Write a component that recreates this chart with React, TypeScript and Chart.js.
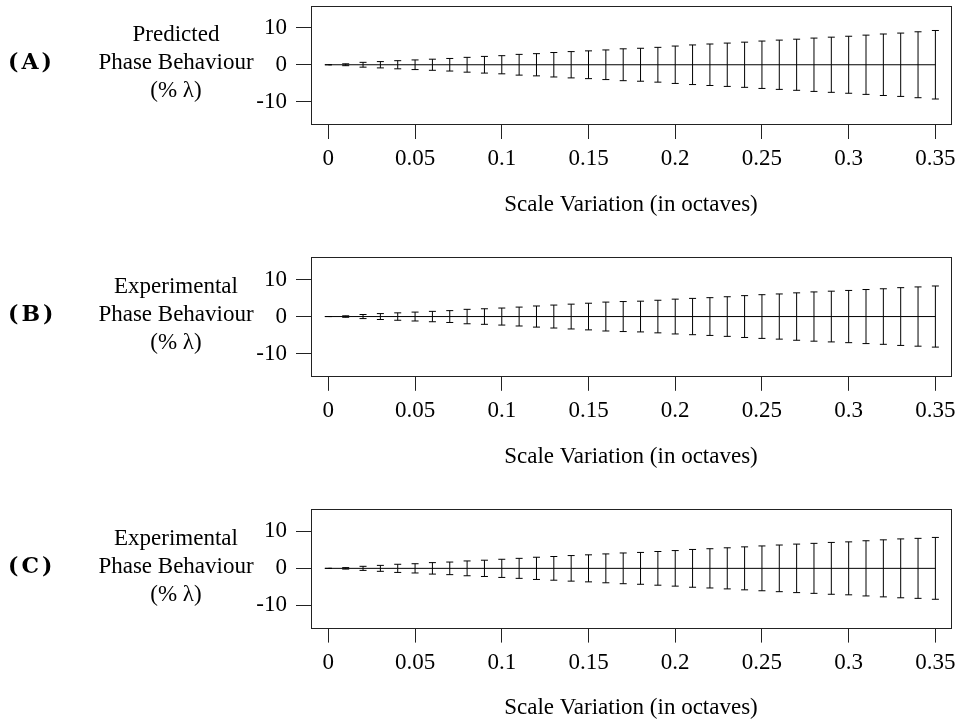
import React, { useEffect, useRef } from "react";
import { Chart, registerables } from "chart.js";

Chart.register(...registerables);

// ---------------- data ----------------
const scaleVariation = [
  0, 0.01, 0.02, 0.03, 0.04, 0.05, 0.06, 0.07, 0.08, 0.09, 0.1, 0.11, 0.12,
  0.13, 0.14, 0.15, 0.16, 0.17, 0.18, 0.19, 0.2, 0.21, 0.22, 0.23, 0.24, 0.25,
  0.26, 0.27, 0.28, 0.29, 0.3, 0.31, 0.32, 0.33, 0.34, 0.35,
];

const xTicks = [0, 0.05, 0.1, 0.15, 0.2, 0.25, 0.3, 0.35];
const xTickLabels = ["0", "0.05", "0.1", "0.15", "0.2", "0.25", "0.3", "0.35"];
const yTicks = [-10, 0, 10];
const yTickLabels = ["-10", "0", "10"];

const meanA = [
  0, 0, 0, 0, 0, 0, 0, 0, 0, 0, 0, 0, 0, 0, 0, 0, 0, 0, 0, 0, 0, 0, 0, 0, 0, 0,
  0, 0, 0, 0, 0, 0, 0, 0, 0, 0,
];
const errA = [
  0, 0.25, 0.65, 0.85, 1.1, 1.3, 1.5, 1.7, 2.0, 2.25, 2.45, 2.8, 3.0, 3.3, 3.55,
  3.75, 4.0, 4.3, 4.45, 4.7, 5.05, 5.35, 5.6, 5.85, 6.1, 6.4, 6.65, 6.9, 7.2,
  7.45, 7.7, 8.0, 8.3, 8.55, 8.9, 9.25,
];

const meanB = [
  0, 0, 0, 0, 0, 0, 0, 0, 0, 0, 0, 0, 0, 0, 0, 0, 0, 0, 0, 0, 0, 0, 0, 0, 0, 0,
  0, 0, 0, 0, 0, 0, 0, 0, 0, 0,
];
const errB = [
  0, 0.2, 0.55, 0.8, 1.0, 1.2, 1.4, 1.6, 1.95, 2.1, 2.3, 2.55, 2.85, 3.1, 3.35,
  3.6, 3.9, 4.05, 4.15, 4.4, 4.7, 4.9, 5.1, 5.35, 5.65, 5.9, 6.1, 6.4, 6.65,
  6.85, 7.05, 7.3, 7.5, 7.8, 8.0, 8.25,
];

const meanC = [
  0, 0, 0, 0, 0, 0, 0, 0, 0, 0, 0, 0, 0, 0, 0, 0, 0, 0, 0, 0, 0, 0, 0, 0, 0, 0,
  0, 0, 0, 0, 0, 0, 0, 0, 0, 0,
];
const errC = [
  0, 0.2, 0.55, 0.8, 1.1, 1.25, 1.55, 1.7, 2.0, 2.2, 2.45, 2.7, 3.0, 3.2, 3.45,
  3.65, 3.9, 4.15, 4.3, 4.55, 4.8, 5.1, 5.3, 5.55, 5.8, 6.05, 6.3, 6.55, 6.75,
  7.0, 7.15, 7.45, 7.7, 7.95, 8.1, 8.35,
];

const panelLetters = ["(A)", "(B)", "(C)"];
const yTitles = [
  ["Predicted", "Phase Behaviour", "(% λ)"],
  ["Experimental", "Phase Behaviour", "(% λ)"],
  ["Experimental", "Phase Behaviour", "(% λ)"],
];
const xTitle = "Scale Variation (in octaves)";

const panelMeans = [meanA, meanB, meanC];
const panelErrs = [errA, errB, errC];

// ---------------- layout / style ----------------
const FONT = "'Liberation Serif', 'Times New Roman', serif";
const PANEL_STEP = 251.8;
const PLOT_TOP0 = 5.5;
const PLOT_H = 118.5;
const PLOT_LEFT = 311;
const PLOT_RIGHT = 951;
const CANVAS_W = 990;
const CANVAS_H = 270;
const X_AXIS_H = 100;
const Y_AXIS_W = 60;

const boxPlugin = {
  id: "plotBox",
  afterDraw(chart: any) {
    const { ctx, chartArea } = chart;
    const l = Math.round(chartArea.left) + 0.5;
    const t = Math.round(chartArea.top) + 0.5;
    const r = Math.round(chartArea.right) + 0.5;
    const b = Math.round(chartArea.bottom) + 0.5;
    ctx.save();
    ctx.strokeStyle = "#222";
    ctx.lineWidth = 1;
    ctx.strokeRect(l, t, r - l, b - t);
    ctx.restore();
  },
};

function Panel({ index }: { index: number }) {
  const ref = useRef<HTMLCanvasElement | null>(null);
  const plotTop = PLOT_TOP0 + PANEL_STEP * index;
  const canvasTop = Math.floor(plotTop) - 30;
  const padTop = plotTop - canvasTop;
  const padBottom = CANVAS_H - padTop - PLOT_H - X_AXIS_H;

  useEffect(() => {
    if (!ref.current) return;
    const means = panelMeans[index];
    const errs = panelErrs[index];

    const segs: any[] = [];
    const caps: any[] = [];
    const meanPts: any[] = [];
    scaleVariation.forEach((x, i) => {
      const m = means[i];
      const e = errs[i];
      segs.push({ x, y: m - e });
      segs.push({ x, y: m + e });
      segs.push({ x, y: null });
      caps.push({ x, y: m + e });
      caps.push({ x, y: m - e });
      meanPts.push({ x, y: m });
    });

    const tickFont = { family: FONT, size: 23 };

    const chart = new Chart(ref.current, {
      type: "line",
      data: {
        datasets: [
          {
            data: segs,
            borderColor: "#000",
            borderWidth: 1,
            pointRadius: 0,
            spanGaps: false,
            fill: false,
          },
          {
            data: caps,
            showLine: false,
            pointStyle: "line",
            pointRadius: 3.5,
            pointBorderWidth: 1,
            pointBorderColor: "#000",
            borderColor: "#000",
          },
          {
            data: meanPts,
            borderColor: "#000",
            borderWidth: 1,
            pointRadius: 0,
            fill: false,
          },
        ],
      } as any,
      options: {
        animation: false,
        responsive: false,
        events: [],
        layout: {
          padding: {
            left: PLOT_LEFT - Y_AXIS_W,
            right: CANVAS_W - PLOT_RIGHT,
            top: padTop,
            bottom: padBottom,
          },
        },
        plugins: {
          legend: { display: false },
          tooltip: { enabled: false },
        },
        scales: {
          x: {
            type: "linear",
            min: -0.01,
            max: 0.359,
            afterBuildTicks: (s: any) => {
              s.ticks = xTicks.map((v) => ({ value: v }));
            },
            afterFit: (s: any) => {
              s.height = X_AXIS_H;
            },
            grid: {
              drawOnChartArea: false,
              drawTicks: true,
              tickLength: 15,
              color: "#222",
              lineWidth: 1,
            },
            border: { display: false },
            ticks: {
              font: tickFont,
              color: "#000",
              padding: 6.2,
              maxRotation: 0,
              minRotation: 0,
              autoSkip: false,
              callback: (v: any) => xTickLabels[xTicks.indexOf(Number(v))] ?? "",
            },
            title: {
              display: true,
              text: xTitle,
              font: tickFont,
              color: "#000",
              padding: { top: 0, bottom: 5.5 },
            },
          },
          y: {
            type: "linear",
            min: -16,
            max: 16,
            afterBuildTicks: (s: any) => {
              s.ticks = yTicks.map((v) => ({ value: v }));
            },
            afterFit: (s: any) => {
              s.width = Y_AXIS_W;
            },
            grid: {
              drawOnChartArea: false,
              drawTicks: true,
              tickLength: 15,
              color: "#222",
              lineWidth: 1,
            },
            border: { display: false },
            ticks: {
              font: tickFont,
              color: "#000",
              padding: 9,
              autoSkip: false,
              callback: (v: any) => yTickLabels[yTicks.indexOf(Number(v))] ?? "",
            },
          },
        },
      } as any,
      plugins: [boxPlugin],
    });
    return () => chart.destroy();
  }, [index]);

  const off = PANEL_STEP * index;
  return (
    <>
      <canvas
        ref={ref}
        width={CANVAS_W}
        height={CANVAS_H}
        style={{
          position: "absolute",
          left: 0,
          top: canvasTop,
          width: CANVAS_W,
          height: CANVAS_H,
          display: "block",
        }}
      />
      <div
        style={{
          position: "absolute",
          left: 8,
          top: 48.2 + off,
          fontFamily: "'DejaVu Serif', serif",
          fontWeight: "bold",
          fontSize: 22,
          lineHeight: "26px",
          letterSpacing: 3,
          color: "#000",
          whiteSpace: "nowrap",
        }}
      >
        {panelLetters[index]}
      </div>
      <div
        style={{
          position: "absolute",
          left: 56,
          width: 240,
          top: 19.9 + off,
          fontFamily: FONT,
          fontSize: 23,
          lineHeight: "28px",
          textAlign: "center",
          color: "#000",
        }}
      >
        {yTitles[index].map((line, i) => (
          <div key={i}>{line}</div>
        ))}
      </div>
    </>
  );
}

export default function App() {
  return (
    <div
      style={{
        position: "fixed",
        left: 0,
        top: 0,
        width: 957,
        height: 725,
        overflow: "hidden",
        background: "#fff",
      }}
    >
      {[0, 1, 2].map((i) => (
        <Panel key={i} index={i} />
      ))}
    </div>
  );
}
